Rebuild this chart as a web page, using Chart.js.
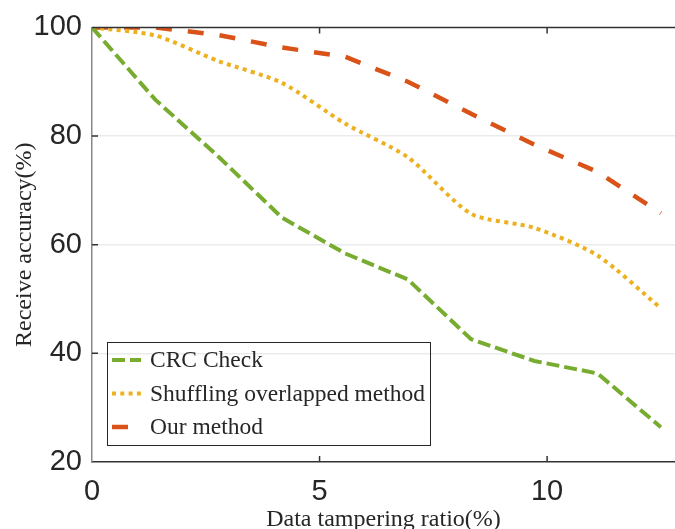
<!DOCTYPE html>
<html>
<head>
<meta charset="utf-8">
<script src="https://cdn.jsdelivr.net/npm/chart.js@4.4.1/dist/chart.umd.min.js"></script>
<style>
  html, body { margin: 0; padding: 0; background: #fff; }
  canvas { display: block; }
</style>
</head>
<body>
<canvas id="chart" width="675" height="529"></canvas>
<script>
// tampering ratio (%) on the x axis
const ratio = [0, 1.39, 2.78, 4.17, 5.56, 6.94, 8.33, 9.72, 11.11, 12.5];

// receive accuracy (%)
const crcCheck  = [100, 86.7, 76.2, 65.0, 58.4, 53.6, 42.6, 38.6, 36.3, 26.4];
const shuffling = [100, 98.5, 93.8, 89.8, 82.3, 76.1, 65.7, 63.1, 58.0, 48.3];
const ourMethod = [100, 100, 98.6, 96.3, 94.6, 90.0, 84.1, 78.4, 73.4, 65.8];

const labels = ['CRC Check', 'Shuffling overlapped method', 'Our method'];
const xTicks = [0, 5, 10];
const yTicks = [20, 40, 60, 80, 100];

const pts = (ys) => ys.map((y, i) => ({ x: ratio[i], y: y }));

const serif = "'Liberation Serif', 'Times New Roman', serif";
const sans = "'Liberation Sans', Arial, sans-serif";
const ink = '#262626';

// matlab style: inward ticks + top border
const boxTicks = {
  id: 'boxTicks',
  afterDraw(chart) {
    const { ctx, chartArea: a } = chart;
    const xs = chart.scales.x, ys = chart.scales.y;
    ctx.save();
    ctx.strokeStyle = '#333';
    ctx.lineWidth = 1.5;
    ctx.beginPath();
    ctx.moveTo(a.left, a.top);
    ctx.lineTo(a.right, a.top);
    xTicks.forEach(v => {
      if (v === xs.min) return;
      const px = xs.getPixelForValue(v);
      ctx.moveTo(px, a.bottom); ctx.lineTo(px, a.bottom - 6);
      ctx.moveTo(px, a.top); ctx.lineTo(px, a.top + 6);
    });
    yTicks.forEach(v => {
      if (v === ys.min || v === ys.max) return;
      const py = ys.getPixelForValue(v);
      ctx.moveTo(a.left, py); ctx.lineTo(a.left + 6, py);
    });
    ctx.stroke();
    ctx.restore();
  }
};

// legend box inside the plot, lower left
const boxLegend = {
  id: 'boxLegend',
  afterDraw(chart) {
    const { ctx, chartArea: a } = chart;
    const left = a.left + 15, top = a.bottom - 120, w = 323, h = 103;
    ctx.save();
    ctx.strokeStyle = ink;
    ctx.lineWidth = 1;
    ctx.strokeRect(left + 0.5, top + 0.5, w, h);
    chart.data.datasets.forEach((ds, i) => {
      const y = top + 18 + i * 33.5;
      ctx.strokeStyle = ds.borderColor;
      ctx.lineWidth = ds.borderWidth;
      ctx.setLineDash(ds.borderDash);
      ctx.beginPath();
      ctx.moveTo(left + 5, y);
      ctx.lineTo(left + 34, y);
      ctx.stroke();
      ctx.setLineDash([]);
      ctx.fillStyle = ink;
      ctx.font = '23.5px ' + serif;
      ctx.textBaseline = 'middle';
      ctx.fillText(ds.label, left + 43, y + 1);
    });
    ctx.restore();
  }
};

new Chart(document.getElementById('chart'), {
  type: 'line',
  plugins: [boxTicks, boxLegend],
  data: {
    datasets: [
      {
        label: labels[0],
        data: pts(crcCheck),
        borderColor: '#77AC30',
        borderWidth: 4,
        borderDash: [13, 5],
        tension: 0
      },
      {
        label: labels[1],
        data: pts(shuffling),
        borderColor: '#EDB120',
        borderWidth: 4,
        borderDash: [4, 4.3],
        tension: 0.25
      },
      {
        label: labels[2],
        data: pts(ourMethod),
        borderColor: '#D95319',
        borderWidth: 4.5,
        borderDash: [16, 16],
        tension: 0
      }
    ]
  },
  options: {
    responsive: false,
    animation: false,
    layout: { padding: { top: 24, right: 0, left: 0, bottom: 0 } },
    elements: { point: { radius: 0 } },
    plugins: {
      legend: { display: false },
      tooltip: { enabled: false }
    },
    scales: {
      x: {
        type: 'linear',
        min: 0,
        max: 12.81,
        afterFit(s) { s.height = 67; },
        afterBuildTicks(s) { s.ticks = xTicks.map(v => ({ value: v })); },
        ticks: {
          color: ink,
          font: { family: sans, size: 29 },
          padding: 13,
          maxRotation: 0
        },
        grid: { display: false, drawTicks: false },
        border: { display: true, color: '#333', width: 1.5 },
        title: {
          display: true,
          text: 'Data tampering ratio(%)',
          color: ink,
          font: { family: serif, size: 24 },
          padding: { top: 0, bottom: -5 }
        }
      },
      y: {
        min: 20,
        max: 100,
        afterFit(s) { s.width = 92; },
        afterBuildTicks(s) { s.ticks = yTicks.map(v => ({ value: v })); },
        ticks: {
          color: ink,
          font: { family: sans, size: 29 },
          padding: 10
        },
        grid: {
          drawTicks: false,
          lineWidth: 1.5,
          color: (c) => (c.tick && (c.tick.value === 20 || c.tick.value === 100)) ? 'rgba(0,0,0,0)' : '#ebebeb'
        },
        border: { display: true, color: '#888', width: 1.5 },
        title: {
          display: true,
          text: 'Receive accuracy(%)',
          color: ink,
          font: { family: serif, size: 24 },
          padding: { top: 10, bottom: 0 }
        }
      }
    }
  }
});
</script>
</body>
</html>
